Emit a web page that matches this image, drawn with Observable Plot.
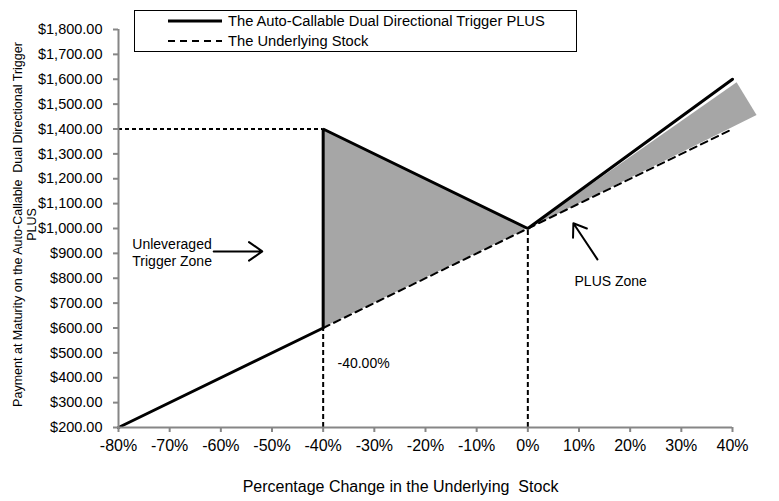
<!DOCTYPE html>
<html>
<head>
<meta charset="utf-8">
<script src="https://cdn.jsdelivr.net/npm/d3@7"></script>
<script src="https://cdn.jsdelivr.net/npm/@observablehq/plot@0.6"></script>
<style>
  html, body { margin: 0; padding: 0; background: #fff; }
  #wrap { position: relative; width: 779px; height: 501px; font-family: "Liberation Sans", Arial, sans-serif; }
  #legend { position: absolute; left: 134px; top: 10px; width: 443px; height: 42px; box-sizing: border-box;
            border: 1px solid #000; background: #fff; font-size: 14.7px; color: #000; }
  #legend .row { position: absolute; left: 0; height: 20px; display: flex; align-items: center; }
  #legend svg { margin-left: 33px; }
  #legend span { margin-left: 6px; }
</style>
</head>
<body>
<div id="wrap"></div>
<script>
// ---- data ----
const xTicks = [-80, -70, -60, -50, -40, -30, -20, -10, 0, 10, 20, 30, 40];
const yTicks = [200, 300, 400, 500, 600, 700, 800, 900, 1000, 1100, 1200, 1300, 1400, 1500, 1600, 1700, 1800];

// Auto-Callable Dual Directional Trigger PLUS payoff
const payoffX = [-80, -40, -40, 0, 40];
const payoffY = [200, 600, 1400, 1000, 1600];

// Underlying stock
const stockX = [-40, 40];
const stockY = [600, 1400];

// shaded zones
const triX = [-40, 0];
const triLow = [600, 1000];
const triHigh = [1400, 1000];
const plusZoneX = [0, 40.8, 44.7];
const plusZoneY = [1000, 1588, 1456];

// guide lines
const hGuide = { y: 1400, x1: -80, x2: -40 };
const vGuideX = [-40, 0];
const vGuideTop = [600, 1000];

// annotations
const leftNotes = [
  { x: -77.3, y: 906, text: "Unleveraged\nTrigger Zone" },
  { x: -37.2, y: 459, text: "-40.00%" }
];
const centerNotes = [
  { x: 16.2, y: 788, text: "PLUS Zone" }
];
const arrows = [
  { x1: -61.4, y1: 908, x2: -51.9, y2: 908 },
  { x1: 13.6, y1: 876, x2: 8.9, y2: 1021 }
];

const legendLabels = ["The Auto-Callable Dual Directional Trigger PLUS", "The Underlying Stock"];
const yTitle = "Payment at Maturity on the Auto-Callable  Dual Directional Trigger\nPLUS";
const xTitle = "Percentage Change in the Underlying  Stock";

// ---- build tables ----
const payoff = payoffX.map((x, i) => ({ x, y: payoffY[i] }));
const stock = stockX.map((x, i) => ({ x, y: stockY[i] }));
const tri = triX.map((x, i) => ({ x, lo: triLow[i], hi: triHigh[i] }));
const plusZone = plusZoneX.map((x, i) => ({ x, y: plusZoneY[i] }));
const vGuides = vGuideX.map((x, i) => ({ x, top: vGuideTop[i] }));

const axisGray = "#868686";
const shade = "#a6a6a6";

const chart = Plot.plot({
  width: 779,
  height: 501,
  marginLeft: 118,
  marginRight: 47,
  marginTop: 29,
  marginBottom: 74,
  style: { fontFamily: "'Liberation Sans', Arial, sans-serif", background: "transparent", overflow: "visible" },
  x: { domain: [-80, 40] },
  y: { domain: [200, 1800] },
  marks: [
    Plot.areaY(tri, { x: "x", y1: "lo", y2: "hi", fill: shade }),
    Plot.line(plusZone, { x: "x", y: "y", fill: shade, stroke: "none" }),
    Plot.ruleY([hGuide], { y: "y", x1: "x1", x2: "x2", stroke: "#000", strokeWidth: 2, strokeDasharray: "4,3" }),
    Plot.ruleX(vGuides, { x: "x", y1: yTicks[0], y2: "top", stroke: "#000", strokeWidth: 2, strokeDasharray: "5,3" }),
    Plot.line(stock, { x: "x", y: "y", stroke: "#000", strokeWidth: 2, strokeDasharray: "7,5" }),
    Plot.line(payoff, { x: "x", y: "y", stroke: "#000", strokeWidth: 3, strokeLinejoin: "miter" }),
    Plot.ruleX([xTicks[0]], { stroke: axisGray, strokeWidth: 2 }),
    Plot.ruleY([yTicks[0]], { stroke: axisGray, strokeWidth: 2 }),
    Plot.axisX({ ticks: xTicks, tickFormat: d => d + "%", tickSize: 5, tickPadding: 7, fontSize: 16,
                 stroke: axisGray, strokeWidth: 2, fill: "#000", label: null }),
    Plot.axisY({ ticks: yTicks, tickFormat: d3.format("$,.2f"), tickSize: 5, tickPadding: 11, fontSize: 14.5,
                 stroke: axisGray, strokeWidth: 2, fill: "#000", label: null }),
    Plot.text([xTitle], { frameAnchor: "bottom", dx: -25, dy: 59, fontSize: 16, fill: "#000", lineAnchor: "middle" }),
    Plot.text([yTitle], { frameAnchor: "left", textAnchor: "middle", rotate: -90, dx: -94, dy: -4, fontSize: 12.5, lineHeight: 1.12, fill: "#000" }),
    Plot.text(leftNotes, { x: "x", y: "y", text: "text", textAnchor: "start", fontSize: 14, lineHeight: 1.2, fill: "#000" }),
    Plot.text(centerNotes, { x: "x", y: "y", text: "text", textAnchor: "middle", fontSize: 14, fill: "#000" }),
    Plot.arrow(arrows, { x1: "x1", y1: "y1", x2: "x2", y2: "y2", stroke: "#000", strokeWidth: 2, headLength: 14, headAngle: 70 })
  ]
});

const wrap = document.getElementById("wrap");
wrap.appendChild(chart);

// legend overlay
const legend = document.createElement("div");
legend.id = "legend";
legendLabels.forEach((label, i) => {
  const row = document.createElement("div");
  row.className = "row";
  row.style.top = (i * 20) + "px";
  const dash = i === 0 ? "" : "stroke-dasharray='7,5'";
  const sw = i === 0 ? 3 : 2;
  row.innerHTML = `<svg width="54" height="10"><line x1="0" y1="5" x2="54" y2="5" stroke="#000" stroke-width="${sw}" ${dash}/></svg><span>${label}</span>`;
  legend.appendChild(row);
});
wrap.appendChild(legend);
</script>
</body>
</html>
